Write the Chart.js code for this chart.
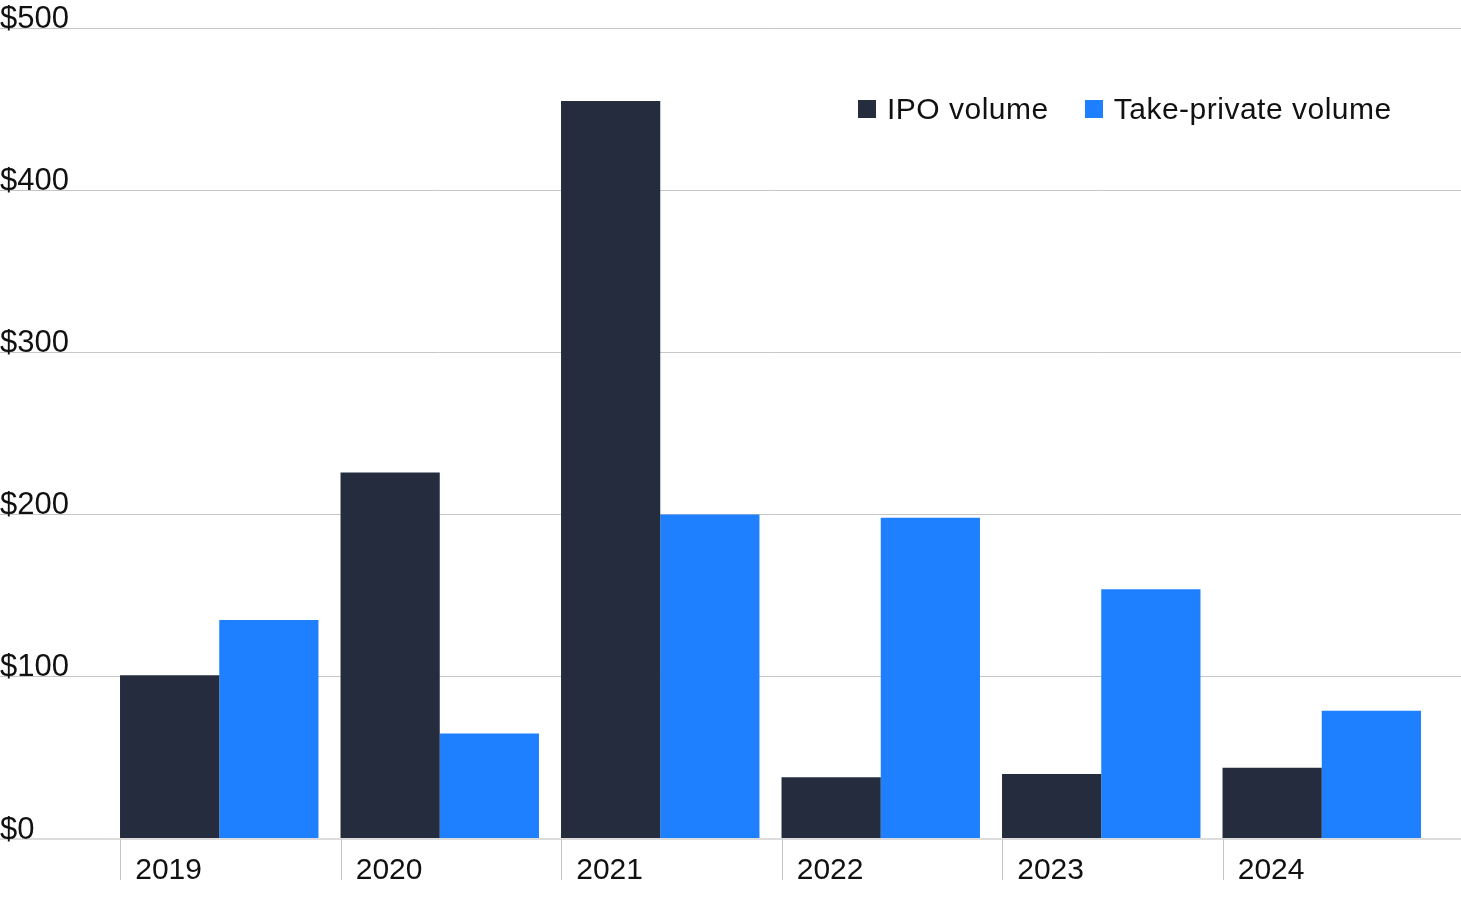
<!DOCTYPE html>
<html>
<head>
<meta charset="utf-8">
<script src="https://cdn.jsdelivr.net/npm/chart.js@4"></script>
<style>
    html, body { margin: 0; padding: 0; background: #ffffff; }
    #wrap { position: relative; width: 1461px; height: 901px; }
    .legend { position: absolute; top: 92px; left: 858px; display: flex; align-items: center;
              font-family: "Liberation Sans", Arial, sans-serif; font-size: 30px; color: #111111;
              letter-spacing: 0.5px; }
    .legend .item { display: flex; align-items: center; margin-right: 36px; }
    .legend .box { width: 18px; height: 18px; margin-right: 11px; }
</style>
</head>
<body>
<div id="wrap">
    <canvas id="volChart" width="1461" height="901"></canvas>
    <div class="legend">
        <div class="item"><span class="box" style="background:#242c3e"></span>IPO volume</div>
        <div class="item"><span class="box" style="background:#1e80ff"></span>Take-private volume</div>
    </div>
</div>
<script>
// Volumes, $bn
const years = ['2019', '2020', '2021', '2022', '2023', '2024'];
const ipoVolume = [101, 226, 455, 38, 40, 44];
const takePrivateVolume = [135, 65, 200, 198, 154, 79];
const yTicks = [0, 100, 200, 300, 400, 500];

const FONT = '"Liberation Sans", Arial, sans-serif';
const GRID = '#c6c6c6';
const CAT_PCT = 0.9;

// small vertical ticks under the x axis, at the left edge of each bar group
const groupTicks = {
    id: 'groupTicks',
    afterDraw(chart) {
        const x = chart.scales.x;
        const y = chart.scales.y;
        const ctx = chart.ctx;
        const half = (x.width / years.length) * CAT_PCT / 2;
        const base = y.getPixelForValue(0);
        ctx.save();
        ctx.strokeStyle = GRID;
        ctx.lineWidth = 1;
        years.forEach((yr, i) => {
            const px = Math.round(x.getPixelForValue(i) - half) + 0.5;
            ctx.beginPath();
            ctx.moveTo(px, base);
            ctx.lineTo(px, base + 41);
            ctx.stroke();
        });
        ctx.restore();
    }
};

const yGrid = {
    color: ctx => (ctx.tick && ctx.tick.value === 0 ? '#dcdcdc' : GRID),
    lineWidth: ctx => (ctx.tick && ctx.tick.value === 0 ? 2 : 1),
    drawTicks: true
};

new Chart(document.getElementById('volChart'), {
    type: 'bar',
    data: {
        labels: years,
        datasets: [{
            label: 'IPO volume',
            data: ipoVolume,
            backgroundColor: '#242c3e',
            borderWidth: 0,
            categoryPercentage: CAT_PCT,
            barPercentage: 1
        }, {
            label: 'Take-private volume',
            data: takePrivateVolume,
            backgroundColor: '#1e80ff',
            borderWidth: 0,
            categoryPercentage: CAT_PCT,
            barPercentage: 1
        }]
    },
    options: {
        responsive: false,
        animation: false,
        layout: {
            padding: { top: 28, bottom: -2, left: 0, right: 0 }
        },
        plugins: {
            legend: { display: false },
            tooltip: { enabled: false }
        },
        scales: {
            x: {
                grid: { display: false, drawTicks: false },
                border: { display: false },
                ticks: {
                    align: 'start',
                    labelOffset: -84,
                    padding: 14,
                    color: '#111111',
                    font: { family: FONT, size: 30 }
                }
            },
            y: {
                position: 'left',
                min: 0,
                max: 500,
                afterFit(scale) { scale.width = 109; },
                afterBuildTicks(scale) { scale.ticks = yTicks.map(v => ({ value: v })); },
                grid: Object.assign({ tickLength: 109 }, yGrid),
                border: { display: false },
                ticks: {
                    crossAlign: 'far',
                    labelOffset: -9,
                    color: '#111111',
                    font: { family: FONT, size: 31 },
                    callback: v => '$' + v
                }
            },
            y2: {
                position: 'right',
                min: 0,
                max: 500,
                afterFit(scale) { scale.width = 29; },
                afterBuildTicks(scale) { scale.ticks = yTicks.map(v => ({ value: v })); },
                grid: Object.assign({ tickLength: 29, drawOnChartArea: false }, yGrid),
                border: { display: false },
                ticks: { display: false }
            }
        }
    },
    plugins: [groupTicks]
});
</script>
</body>
</html>
